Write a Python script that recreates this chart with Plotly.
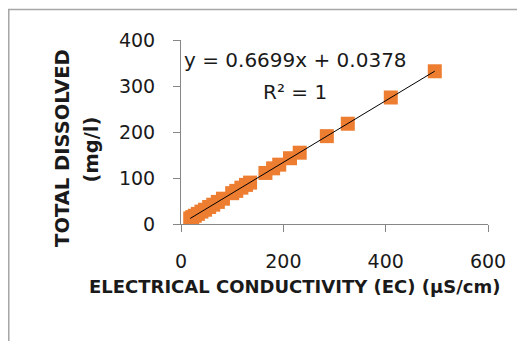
import plotly.graph_objects as go

# Data
ec = [18, 22, 27, 33, 40, 47, 55, 63, 72, 82, 100, 108, 118, 127, 135, 165, 180, 192, 213, 232, 285, 326, 410, 496]
tds = [12, 15, 18, 22, 27, 31, 37, 42, 48, 55, 67, 72, 79, 85, 90, 111, 121, 129, 143, 155, 191, 218, 275, 332]

slope = 0.6699
intercept = 0.0378
equation_text = "y = 0.6699x + 0.0378"
r2_text = "R² = 1"

x_ticks = [0, 200, 400, 600]
y_ticks = [0, 100, 200, 300, 400]
x_title = "ELECTRICAL CONDUCTIVITY (EC) (µS/cm)"
y_title_1 = "TOTAL DISSOLVED"
y_title_2 = "(mg/l)"

trend_x = [min(ec), max(ec)]
trend_y = [slope * v + intercept for v in trend_x]

FONT = "DejaVu Sans"
TXT = "#1a1a1a"
AX = "#868686"

fig = go.Figure()
fig.add_trace(go.Scatter(
    x=ec, y=tds, mode="markers",
    marker=dict(symbol="square", size=14, color="#ED7D31", line=dict(width=0)),
    showlegend=False, hoverinfo="x+y",
))
fig.add_trace(go.Scatter(
    x=trend_x, y=trend_y, mode="lines",
    line=dict(color="black", width=1),
    showlegend=False, hoverinfo="skip",
))

fig.update_layout(
    width=517, height=333,
    margin=dict(l=173, r=37, t=32, b=117, pad=0),
    paper_bgcolor="white", plot_bgcolor="white",
    font=dict(family=FONT, color=TXT, size=19),
    xaxis=dict(
        range=[0, 600], tickvals=x_ticks, ticks="outside", ticklen=7,
        tickcolor=AX, showline=True, linecolor=AX, linewidth=1,
        showgrid=False, zeroline=False, ticklabelstandoff=13,
        tickfont=dict(family=FONT, size=19, color=TXT),
    ),
    yaxis=dict(
        range=[0, 400], tickvals=y_ticks, ticks="outside", ticklen=7,
        tickcolor=AX, showline=True, linecolor=AX, linewidth=1,
        showgrid=False, zeroline=False, ticklabelstandoff=14,
        tickfont=dict(family=FONT, size=19, color=TXT),
    ),
    annotations=[
        dict(text=equation_text, xref="paper", yref="paper", x=0.003, y=0.891,
             xanchor="left", yanchor="middle", showarrow=False,
             font=dict(family=FONT, size=20, color=TXT)),
        dict(text=r2_text, xref="paper", yref="paper", x=0.371, y=0.715,
             xanchor="center", yanchor="middle", showarrow=False,
             font=dict(family=FONT, size=20, color=TXT)),
        dict(text="<b>" + x_title + "</b>", xref="paper", yref="paper", x=0.371, y=-0.342,
             xanchor="center", yanchor="middle", showarrow=False,
             font=dict(family=FONT, size=18, color=TXT)),
        dict(text="<b>" + y_title_1 + "</b>", xref="paper", yref="paper", x=-0.388, y=0.413,
             xanchor="center", yanchor="middle", showarrow=False, textangle=-90,
             font=dict(family=FONT, size=19.5, color=TXT)),
        dict(text="<b>" + y_title_2 + "</b>", xref="paper", yref="paper", x=-0.293, y=0.405,
             xanchor="center", yanchor="middle", showarrow=False, textangle=-90,
             font=dict(family=FONT, size=19.5, color=TXT)),
    ],
    shapes=[
        dict(type="rect", xref="paper", yref="paper",
             x0=-0.561, x1=1.15, y0=-0.66, y1=1.166,
             line=dict(color="#a6a6a6", width=1.5), fillcolor="rgba(0,0,0,0)", layer="below"),
    ],
)

fig.write_html("out.html")
